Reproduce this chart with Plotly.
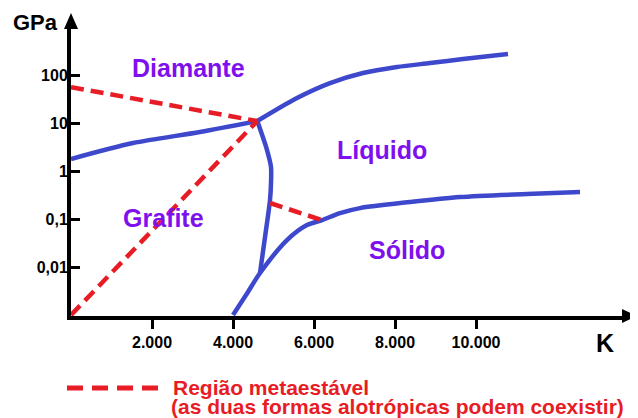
import math
import plotly.graph_objects as go

# ---- data (temperature in K, pressure in GPa) ----
gd_T = [0, 1531, 3185, 4600]                       # graphite–diamond boundary
gd_P = [1.78, 3.83, 6.49, 11.0]
dl_T = [4600, 5580, 6395, 7210, 8049, 8864, 9679, 10790]   # diamond–liquid
dl_P = [11.0, 33.2, 68, 110, 147, 178, 215, 274]
gl_T = [4600, 4840, 4938, 4938, 4914, 4790, 4667]  # graphite–liquid
gl_P = [11.0, 2.74, 1.21, 0.56, 0.249, 0.042, 0.0075]
sl_T = [4000, 4321, 4667, 5333, 5827, 6198, 6642, 7136, 8370, 9605, 11259, 12568]  # solid boundary
sl_P = [0.001, 0.00261, 0.0075, 0.0365, 0.075, 0.095, 0.133, 0.169, 0.226, 0.287, 0.332, 0.365]
meta1_T = [0, 4600]
meta1_P = [56, 11.0]
meta2_T = [0, 4600]
meta2_P = [0.001, 11.0]
meta3_T = [4914, 6198]
meta3_P = [0.216, 0.095]

x_tickvals = [2000, 4000, 6000, 8000, 10000]
x_ticktext = ["2.000", "4.000", "6.000", "8.000", "10.000"]
y_tickvals = [0.01, 0.1, 1, 10, 100]
y_ticktext = ["0,01", "0,1", "1", "10", "100"]

regions = ["Diamante", "Líquido", "Grafite", "Sólido"]
region_T = [2889, 7679, 2296, 8296]
region_P = [140, 2.74, 0.105, 0.0226]

BLUE = "#3E48CC"
RED = "#E81C24"
PURPLE = "#7F10EE"
FONT = "Liberation Sans, Arial, sans-serif"

# the page body has an 8px margin, so the figure is 8px smaller and offset
OFF = 8
W, H = 638 - OFF, 418 - OFF
L, R, T, B = 71 - OFF, 12, 28 - OFF, 102
pw, ph = W - L - R, H - T - B


def px(x):
    # screen pixel x -> paper coordinate
    return (x - OFF - L) / pw


def py(y):
    # screen pixel y -> paper coordinate
    return (H - B - (y - OFF)) / ph


fig = go.Figure()

for xs, ys in [(gd_T, gd_P), (dl_T, dl_P), (gl_T, gl_P), (sl_T, sl_P)]:
    fig.add_trace(go.Scatter(x=xs, y=ys, mode="lines",
                             line=dict(color=BLUE, width=4.5, shape="spline", smoothing=0.8),
                             cliponaxis=False, showlegend=False, hoverinfo="skip"))

for xs, ys in [(meta1_T, meta1_P), (meta2_T, meta2_P), (meta3_T, meta3_P)]:
    fig.add_trace(go.Scatter(x=xs, y=ys, mode="lines",
                             line=dict(color=RED, width=4.5, dash="13px,7px"),
                             cliponaxis=False, showlegend=False, hoverinfo="skip"))

for name, tx, tp in zip(regions, region_T, region_P):
    fig.add_annotation(x=tx, y=math.log10(tp), xref="x", yref="y", text=f"<b>{name}</b>",
                       xanchor="center", yanchor="middle",
                       showarrow=False, font=dict(family=FONT, size=25, color=PURPLE))

# axis titles
fig.add_annotation(x=px(35), y=py(22), xref="paper", yref="paper", text="<b>GPa</b>",
                   xanchor="center", yanchor="middle",
                   showarrow=False, font=dict(family=FONT, size=22, color="black"))
fig.add_annotation(x=px(605), y=py(343), xref="paper", yref="paper", text="<b>K</b>",
                   xanchor="center", yanchor="middle",
                   showarrow=False, font=dict(family=FONT, size=25, color="black"))

# legend
fig.add_shape(type="line", xref="paper", yref="paper", x0=px(67), x1=px(158), y0=py(388), y1=py(388),
              line=dict(color=RED, width=5, dash="16px,9px"))
fig.add_annotation(x=px(171), y=py(387), xref="paper", yref="paper", xanchor="left", yanchor="middle",
                   text="<b>Região metaestável</b>", showarrow=False,
                   font=dict(family=FONT, size=21, color=RED))
fig.add_annotation(x=px(169), y=py(406), xref="paper", yref="paper", xanchor="left", yanchor="middle",
                   text="<b>(as duas formas alotrópicas podem coexistir)</b>", showarrow=False,
                   font=dict(family=FONT, size=21, color=RED))

# arrow heads
fig.add_shape(type="path", xref="paper", yref="paper",
              path=f"M {px(71)} {py(13)} L {px(64)} {py(29)} L {px(78)} {py(29)} Z",
              fillcolor="black", line=dict(width=0))
fig.add_shape(type="path", xref="paper", yref="paper",
              path=f"M {px(637)} {py(316)} L {px(622)} {py(309)} L {px(622)} {py(323)} Z",
              fillcolor="black", line=dict(width=0))

fig.update_xaxes(range=[0, pw * 2000 / 81], tickvals=x_tickvals, ticktext=x_ticktext,
                 showgrid=False, zeroline=False, showline=True, linecolor="black", linewidth=4,
                 ticks="outside", ticklen=9, tickwidth=3, tickcolor="black", automargin=False,
                 tickfont=dict(family=FONT, size=16, color="black", weight="bold"))
fig.update_yaxes(type="log", range=[-3.02, 2.98], tickvals=y_tickvals, ticktext=y_ticktext,
                 showgrid=False, zeroline=False, showline=True, linecolor="black", linewidth=4,
                 ticks="inside", ticklen=9, tickwidth=3, tickcolor="black", automargin=False,
                 ticklabelstandoff=-4,
                 tickfont=dict(family=FONT, size=16, color="black", weight="bold"))

fig.update_layout(width=W, height=H, margin=dict(l=L, r=R, t=T, b=B),
                  paper_bgcolor="white", plot_bgcolor="white")

fig.write_html("out.html")
